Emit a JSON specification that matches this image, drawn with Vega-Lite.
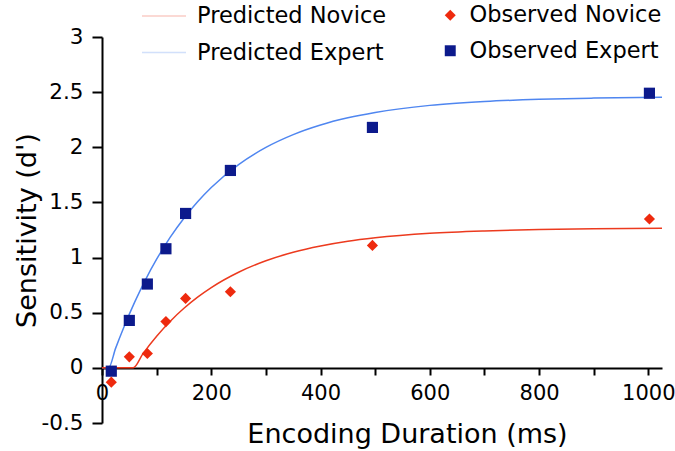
{
  "$schema": "https://vega.github.io/schema/vega-lite/v6.json",
  "width": 560,
  "height": 386,
  "autosize": {"type": "none"},
  "padding": {"left": 102, "top": 37, "right": 13, "bottom": 28},
  "background": "white",
  "config": {
    "font": "DejaVu Sans",
    "view": {"stroke": null}
  },
  "datasets": {
    "pred": [
      {"t": 0, "d": 0, "series": "Predicted Expert"},
      {"t": 12, "d": 0, "series": "Predicted Expert"},
      {"t": 25, "d": 0.179, "series": "Predicted Expert"},
      {"t": 40, "d": 0.369, "series": "Predicted Expert"},
      {"t": 60, "d": 0.598, "series": "Predicted Expert"},
      {"t": 80, "d": 0.803, "series": "Predicted Expert"},
      {"t": 100, "d": 0.985, "series": "Predicted Expert"},
      {"t": 125, "d": 1.185, "series": "Predicted Expert"},
      {"t": 150, "d": 1.357, "series": "Predicted Expert"},
      {"t": 175, "d": 1.506, "series": "Predicted Expert"},
      {"t": 200, "d": 1.635, "series": "Predicted Expert"},
      {"t": 250, "d": 1.843, "series": "Predicted Expert"},
      {"t": 300, "d": 1.999, "series": "Predicted Expert"},
      {"t": 350, "d": 2.115, "series": "Predicted Expert"},
      {"t": 400, "d": 2.202, "series": "Predicted Expert"},
      {"t": 450, "d": 2.267, "series": "Predicted Expert"},
      {"t": 500, "d": 2.316, "series": "Predicted Expert"},
      {"t": 600, "d": 2.38, "series": "Predicted Expert"},
      {"t": 700, "d": 2.415, "series": "Predicted Expert"},
      {"t": 800, "d": 2.435, "series": "Predicted Expert"},
      {"t": 900, "d": 2.446, "series": "Predicted Expert"},
      {"t": 1025, "d": 2.454, "series": "Predicted Expert"},
      {"t": 0, "d": 0, "series": "Predicted Novice"},
      {"t": 57, "d": 0, "series": "Predicted Novice"},
      {"t": 75, "d": 0.129, "series": "Predicted Novice"},
      {"t": 100, "d": 0.287, "series": "Predicted Novice"},
      {"t": 125, "d": 0.423, "series": "Predicted Novice"},
      {"t": 150, "d": 0.54, "series": "Predicted Novice"},
      {"t": 175, "d": 0.641, "series": "Predicted Novice"},
      {"t": 200, "d": 0.728, "series": "Predicted Novice"},
      {"t": 250, "d": 0.867, "series": "Predicted Novice"},
      {"t": 300, "d": 0.971, "series": "Predicted Novice"},
      {"t": 350, "d": 1.048, "series": "Predicted Novice"},
      {"t": 400, "d": 1.105, "series": "Predicted Novice"},
      {"t": 450, "d": 1.148, "series": "Predicted Novice"},
      {"t": 500, "d": 1.179, "series": "Predicted Novice"},
      {"t": 600, "d": 1.22, "series": "Predicted Novice"},
      {"t": 700, "d": 1.242, "series": "Predicted Novice"},
      {"t": 800, "d": 1.255, "series": "Predicted Novice"},
      {"t": 900, "d": 1.262, "series": "Predicted Novice"},
      {"t": 1025, "d": 1.266, "series": "Predicted Novice"}
    ],
    "obs": [
      {"t": 17, "d": -0.03, "series": "Observed Expert"},
      {"t": 50, "d": 0.43, "series": "Observed Expert"},
      {"t": 83, "d": 0.76, "series": "Observed Expert"},
      {"t": 117, "d": 1.08, "series": "Observed Expert"},
      {"t": 153, "d": 1.4, "series": "Observed Expert"},
      {"t": 235, "d": 1.79, "series": "Observed Expert"},
      {"t": 495, "d": 2.18, "series": "Observed Expert"},
      {"t": 1002, "d": 2.49, "series": "Observed Expert"},
      {"t": 17, "d": -0.13, "series": "Observed Novice"},
      {"t": 50, "d": 0.1, "series": "Observed Novice"},
      {"t": 83, "d": 0.13, "series": "Observed Novice"},
      {"t": 117, "d": 0.42, "series": "Observed Novice"},
      {"t": 153, "d": 0.63, "series": "Observed Novice"},
      {"t": 235, "d": 0.69, "series": "Observed Novice"},
      {"t": 495, "d": 1.11, "series": "Observed Novice"},
      {"t": 1002, "d": 1.35, "series": "Observed Novice"}
    ]
  },
  "encoding": {
    "x": {
      "field": "t", "type": "quantitative",
      "scale": {"domain": [0, 1025], "nice": false, "zero": false},
      "axis": {
        "title": "Encoding Duration (ms)",
        "values": [0, 100, 200, 300, 400, 500, 600, 700, 800, 900, 1000],
        "labelExpr": "datum.value % 200 === 0 ? toString(datum.value) : ''",
        "offset": -55,
        "grid": false,
        "domainColor": "black", "domainWidth": 2,
        "tickColor": "black", "tickWidth": 2, "tickSize": 7,
        "labelFontSize": 21, "labelColor": "black", "labelPadding": 7,
        "labelFlush": false, "labelOverlap": false,
        "titleFontSize": 27, "titleFontWeight": "normal", "titleColor": "black",
        "titleX": 305, "titleY": 74, "titleAlign": "center", "titleBaseline": "alphabetic"
      }
    },
    "y": {
      "field": "d", "type": "quantitative",
      "scale": {"domain": [-0.5, 3], "nice": false, "zero": false},
      "axis": {
        "title": "Sensitivity (d')",
        "values": [-0.5, 0, 0.5, 1, 1.5, 2, 2.5, 3],
        "labelExpr": "toString(datum.value)",
        "grid": false,
        "domainColor": "black", "domainWidth": 2,
        "tickColor": "black", "tickWidth": 2, "tickSize": 10,
        "labelFontSize": 21.5, "labelColor": "black", "labelPadding": 9,
        "labelFlush": false, "labelOverlap": false,
        "titleFontSize": 27, "titleFontWeight": "normal", "titleColor": "black",
        "titleX": -75, "titleY": 193, "titleAlign": "center", "titleBaseline": "middle", "titleAngle": -90
      }
    }
  },
  "layer": [
    {
      "data": {"name": "pred"},
      "mark": {"type": "line", "strokeWidth": 1.5, "interpolate": "monotone"},
      "encoding": {
        "detail": {"field": "series"},
        "color": {
          "field": "series", "type": "nominal",
          "scale": {"domain": ["Predicted Novice", "Predicted Expert"], "range": ["#ec3a1e", "#4f86f0"]},
          "legend": {
            "title": null, "orient": "none", "legendX": 50, "legendY": -33,
            "symbolType": "M-2,0L2,0", "symbolSize": 484, "symbolStrokeWidth": 1.5,
            "symbolOpacity": 0.25,
            "labelFontSize": 22.5, "labelColor": "black", "labelOffset": 21, "labelLimit": 0,
            "rowPadding": 12.5, "padding": 0
          }
        }
      }
    },
    {
      "data": {"name": "obs"},
      "mark": {"type": "point", "filled": true, "opacity": 1, "size": 125},
      "encoding": {
        "color": {
          "field": "series", "type": "nominal",
          "scale": {"domain": ["Observed Novice", "Observed Expert"], "range": ["#ee2a0e", "#0c1a8c"]},
          "legend": {
            "title": null, "orient": "none", "legendX": 337, "legendY": -33,
            "symbolSize": 120,
            "labelFontSize": 22.5, "labelColor": "black", "labelOffset": 8, "labelLimit": 0,
            "rowPadding": 12.5, "padding": 0
          }
        },
        "shape": {
          "field": "series", "type": "nominal",
          "scale": {"domain": ["Observed Novice", "Observed Expert"], "range": ["diamond", "square"]},
          "legend": {
            "title": null, "orient": "none", "legendX": 337, "legendY": -33,
            "symbolSize": 120,
            "labelFontSize": 22.5, "labelColor": "black", "labelOffset": 8, "labelLimit": 0,
            "rowPadding": 12.5, "padding": 0
          }
        }
      }
    }
  ],
  "resolve": {"scale": {"color": "independent", "shape": "independent"}}
}
